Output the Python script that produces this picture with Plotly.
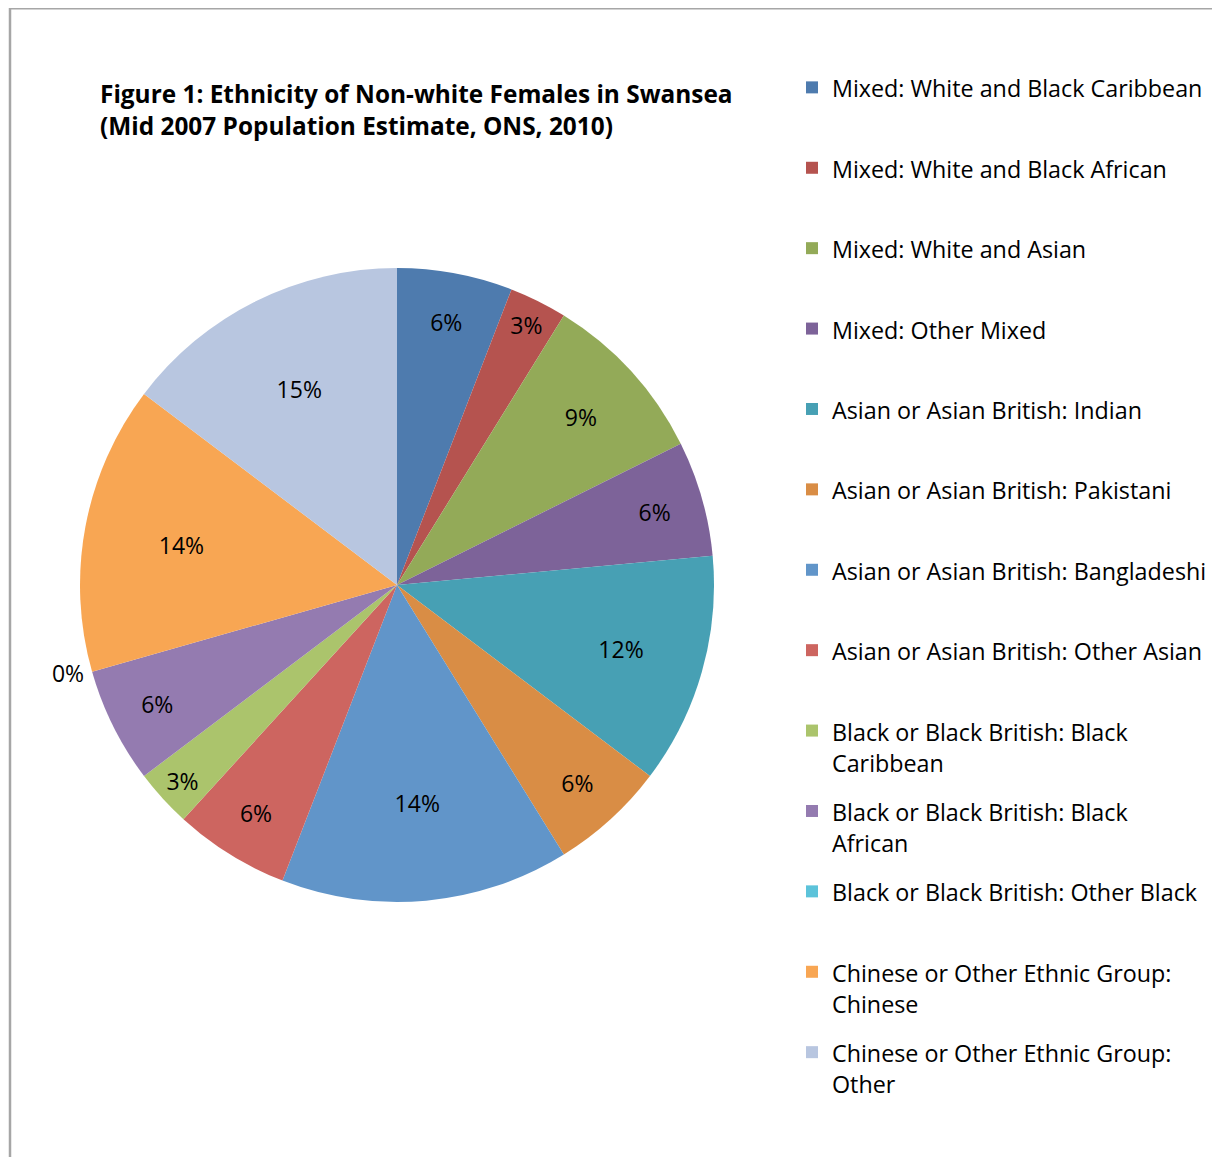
import plotly.graph_objects as go

categories = [
    "Mixed: White and Black Caribbean",
    "Mixed: White and Black African",
    "Mixed: White and Asian",
    "Mixed: Other Mixed",
    "Asian or Asian British: Indian",
    "Asian or Asian British: Pakistani",
    "Asian or Asian British: Bangladeshi",
    "Asian or Asian British: Other Asian",
    "Black or Black British: Black<br>Caribbean",
    "Black or Black British: Black<br>African",
    "Black or Black British: Other Black",
    "Chinese or Other Ethnic Group:<br>Chinese",
    "Chinese or Other Ethnic Group:<br>Other",
]
# population estimates (hundreds)
values = [2, 1, 3, 2, 4, 2, 5, 2, 1, 2, 0, 5, 5]
pct_labels = ["6%", "3%", "9%", "6%", "12%", "6%", "14%", "6%", "3%", "6%", "0%", "14%", "15%"]
colors = ["#4E7BAE", "#B5534F", "#93AA58", "#7D6399", "#47A0B4", "#D98D45",
          "#6195C9", "#CD6560", "#ABC46C", "#947BB0", "#5CC3DA", "#F8A653", "#B8C6E0"]

LEG_TXT = 23.3       # displayed legend text size
N_SUB = 10           # sub-lines per legend entry (fine vertical grid)
LEG_LH = 80.4        # pixel pitch of legend entries in the reference
leg_font = (LEG_LH - 3) / N_SUB / 1.3

legend_names = []
for c in categories:
    parts = c.split("<br>")
    slots = [" "] * N_SUB
    for i, p in enumerate(parts):
        slots[1 + 4 * i] = f"<span style='font-size:{LEG_TXT}px'>{p}</span>"
    legend_names.append("<br>".join(slots))

textpos = ["outside" if v == 0 else "inside" for v in values]

W, H = 1220, 1157
OFF = 8  # page body margin
cx, cy, r = 397 - OFF, 585 - OFF, 317

fig = go.Figure(go.Pie(
    labels=legend_names,
    values=values,
    text=pct_labels,
    textinfo="text",
    textposition=textpos,
    insidetextorientation="horizontal",
    sort=False,
    direction="clockwise",
    rotation=0,
    marker=dict(colors=colors, line=dict(width=0)),
    textfont=dict(family="Open Sans", size=23, color="#000000"),
    outsidetextfont=dict(family="Open Sans", size=23, color="#000000"),
    insidetextfont=dict(family="Open Sans", size=23, color="#000000"),
    domain=dict(x=[(cx - r) / W, (cx + r) / W], y=[1 - (cy + r) / H, 1 - (cy - r) / H]),
    showlegend=True,
))

fig.update_layout(
    width=W, height=H,
    margin=dict(l=0, r=0, t=0, b=0),
    paper_bgcolor="white",
    plot_bgcolor="white",
    title=dict(
        text="<b>Figure 1: Ethnicity of Non-white Females in Swansea<br>(Mid 2007 Population Estimate, ONS, 2010)</b>",
        x=(100 - OFF) / W, xanchor="left", xref="paper",
        y=1 - 95 / H, yanchor="top", yref="paper",
        font=dict(family="Open Sans", size=24.4, color="#000000"),
    ),
    legend=dict(
        x=784 / W, xanchor="left",
        y=1 - 69 / H, yanchor="top",
        font=dict(family="Open Sans", size=leg_font, color="#000000"),
        valign="top",
        bgcolor="rgba(0,0,0,0)",
        tracegroupgap=0,
    ),
    shapes=[dict(
        type="rect", xref="paper", yref="paper",
        x0=(10 - OFF) / W, x1=1.05, y0=-0.05, y1=1 - 0.3 / H,
        line=dict(color="#A6A6A6", width=2.5),
        fillcolor="rgba(0,0,0,0)", layer="below",
    )],
)

fig.write_html("out.html")
